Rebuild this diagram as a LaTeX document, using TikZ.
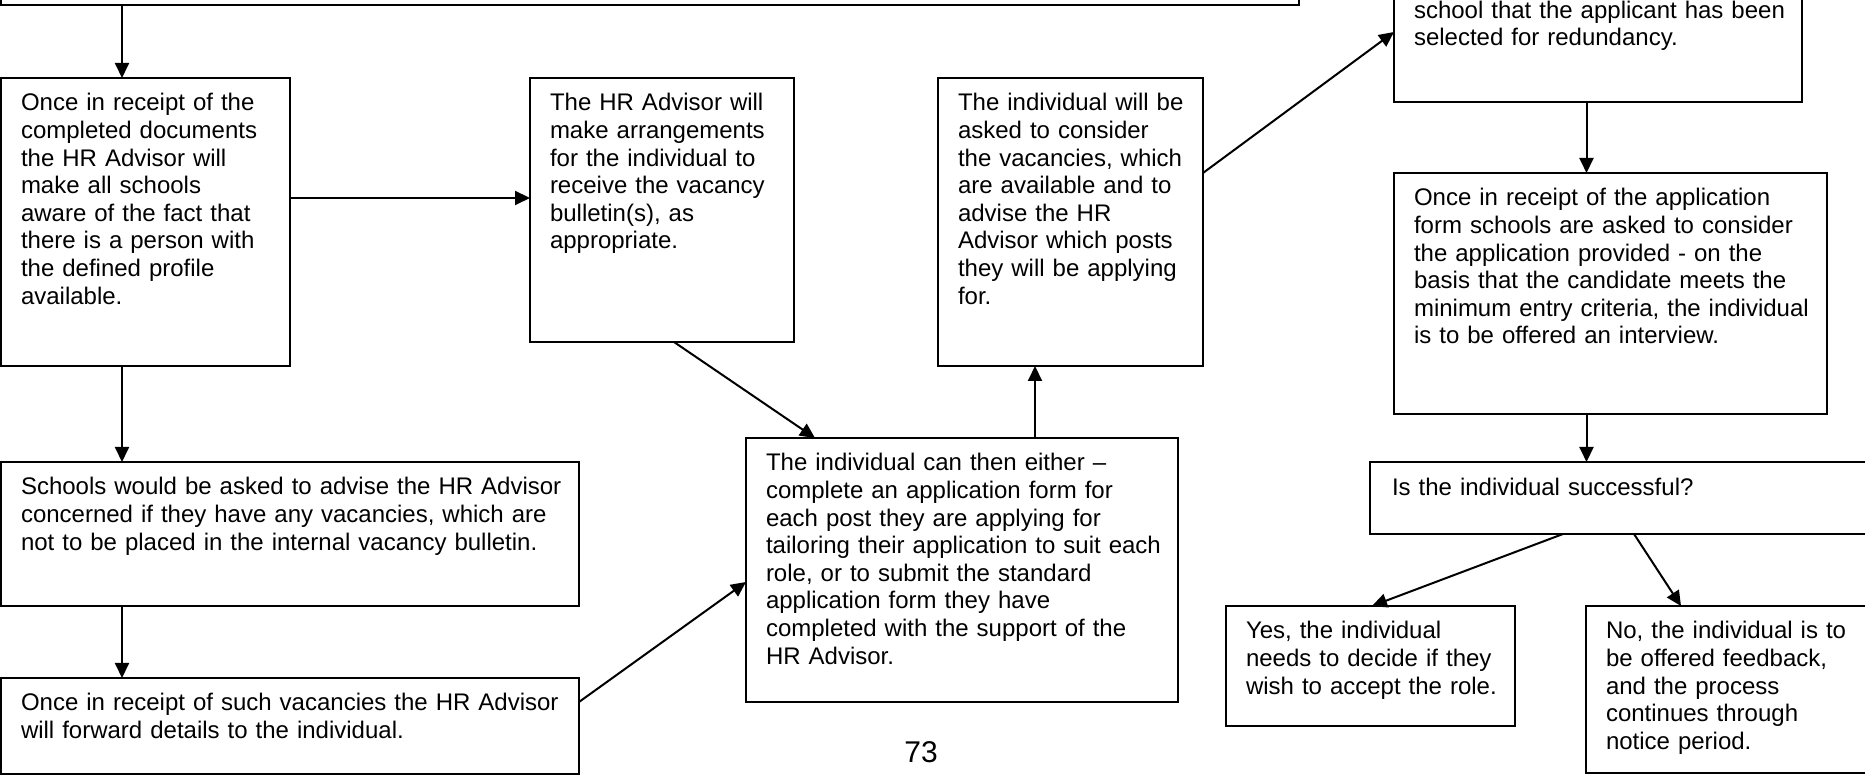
\documentclass[tikz,border=0pt]{standalone}
\usepackage{fontspec}
\setmainfont{Liberation Sans}
\usetikzlibrary{arrows.meta,calc}
\tikzset{
  flowbox/.style={draw, line width=1pt, inner sep=0pt, outer sep=0pt, anchor=north west},
  txt/.style={anchor=base west, inner sep=0pt, outer sep=0pt, align=left, font=\fontsize{12}{13.8}\selectfont},
  arr/.style={-{Triangle[length=7.5pt,width=7pt]}, line width=1pt},
}
\begin{document}
\begin{tikzpicture}[x=0.5pt,y=-0.5pt]
\useasboundingbox (0,0) rectangle (1865,779);
% boxes
\node[flowbox, minimum width=649pt, minimum height=52.5pt] (top) at (1,-100) {};
\node[flowbox, minimum width=144.5pt, minimum height=144pt] (A) at (1,78) {};
\node[flowbox, minimum width=132pt, minimum height=132pt] (B) at (530,78) {};
\node[flowbox, minimum width=132.5pt, minimum height=144pt] (C) at (938,78) {};
\node[flowbox, minimum width=289pt, minimum height=72pt] (D) at (1,462) {};
\node[flowbox, minimum width=289pt, minimum height=48pt] (E) at (1,678) {};
\node[flowbox, minimum width=216pt, minimum height=132pt] (F) at (746,438) {};
\node[flowbox, minimum width=204pt, minimum height=101pt] (H) at (1394,-100) {};
\node[flowbox, minimum width=216.5pt, minimum height=120.5pt] (I) at (1394,173) {};
\node[flowbox, minimum width=290pt, minimum height=36pt] (J) at (1370,462) {};
\node[flowbox, minimum width=144.5pt, minimum height=60pt] (G) at (1226,606) {};
\node[flowbox, minimum width=182pt, minimum height=83.5pt] (K) at (1586,606) {};
% texts
\node[txt, text width=140pt] (tA) at ([shift={(10pt,-16.5pt)}]A.north west) {Once in receipt of the\\completed documents\\the HR Advisor will\\make all schools\\aware of the fact that\\there is a person with\\the defined profile\\available.};
\node[txt, text width=130pt] (tB) at ([shift={(10pt,-16.5pt)}]B.north west) {The HR Advisor will\\make arrangements\\for the individual to\\receive the vacancy\\bulletin(s), as\\appropriate.};
\node[txt, text width=130pt] (tC) at ([shift={(10pt,-16.5pt)}]C.north west) {The individual will be\\asked to consider\\the vacancies, which\\are available and to\\advise the HR\\Advisor which posts\\they will be applying\\for.};
\node[txt, text width=280pt] (tD) at ([shift={(10pt,-16.5pt)}]D.north west) {Schools would be asked to advise the HR Advisor\\concerned if they have any vacancies, which are\\not to be placed in the internal vacancy bulletin.};
\node[txt, text width=280pt] (tE) at ([shift={(10pt,-16.5pt)}]E.north west) {Once in receipt of such vacancies the HR Advisor\\will forward details to the individual.};
\node[txt, text width=210pt] (tF) at ([shift={(10pt,-16.5pt)}]F.north west) {The individual can then either --\\complete an application form for\\each post they are applying for\\tailoring their application to suit each\\role, or to submit the standard\\application form they have\\completed with the support of the\\HR Advisor.};
\node[txt, text width=200pt] (tH) at ([shift={(10pt,41.8pt)}]H.south west) {school that the applicant has been\\selected for redundancy.};
\node[txt, text width=210pt] (tI) at ([shift={(10pt,-16.5pt)}]I.north west) {Once in receipt of the application\\form schools are asked to consider\\the application provided - on the\\basis that the candidate meets the\\minimum entry criteria, the individual\\is to be offered an interview.};
\node[txt, text width=240pt] (tJ) at ([shift={(11pt,-17pt)}]J.north west) {Is the individual successful?};
\node[txt, text width=140pt] (tG) at ([shift={(10pt,-16.5pt)}]G.north west) {Yes, the individual\\needs to decide if they\\wish to accept the role.};
\node[txt, text width=170pt] (tK) at ([shift={(10pt,-16.5pt)}]K.north west) {No, the individual is to\\be offered feedback,\\and the process\\continues through\\notice period.};
\node[inner sep=0pt, font=\fontsize{15}{18}\selectfont] (pg) at (921,752) {73};
% helper coordinates
\coordinate (xA) at (122,0);
\coordinate (yAB) at (0,198);
\coordinate (yE) at (0,702);
\coordinate (yF) at (0,582);
\coordinate (xB1) at (674,0);
\coordinate (xF1) at (815,0);
\coordinate (xFC) at (1035,0);
\coordinate (yC) at (0,173);
\coordinate (yH) at (0,32);
\coordinate (xHI) at (1586.5,0);
\coordinate (xJ1) at (1563,0);
\coordinate (xG1) at (1372,0);
\coordinate (xJ2) at (1634,0);
\coordinate (xK1) at (1681,0);
% connectors
\draw[arr] (xA |- top.south) -- (xA |- A.north);
\draw[arr] (xA |- A.south) -- (xA |- D.north);
\draw[arr] (xA |- D.south) -- (xA |- E.north);
\draw[arr] (A.east |- yAB) -- (B.west |- yAB);
\draw[arr] (E.east |- yE) -- (F.west |- yF);
\draw[arr] (xB1 |- B.south) -- (xF1 |- F.north);
\draw[arr] (xFC |- F.north) -- (xFC |- C.south);
\draw[arr] (C.east |- yC) -- (H.west |- yH);
\draw[arr] (xHI |- H.south) -- (xHI |- I.north);
\draw[arr] (xHI |- I.south) -- (xHI |- J.north);
\draw[arr] (xJ1 |- J.south) -- (xG1 |- G.north);
\draw[arr] (xJ2 |- J.south) -- (xK1 |- K.north);
\end{tikzpicture}
\end{document}
